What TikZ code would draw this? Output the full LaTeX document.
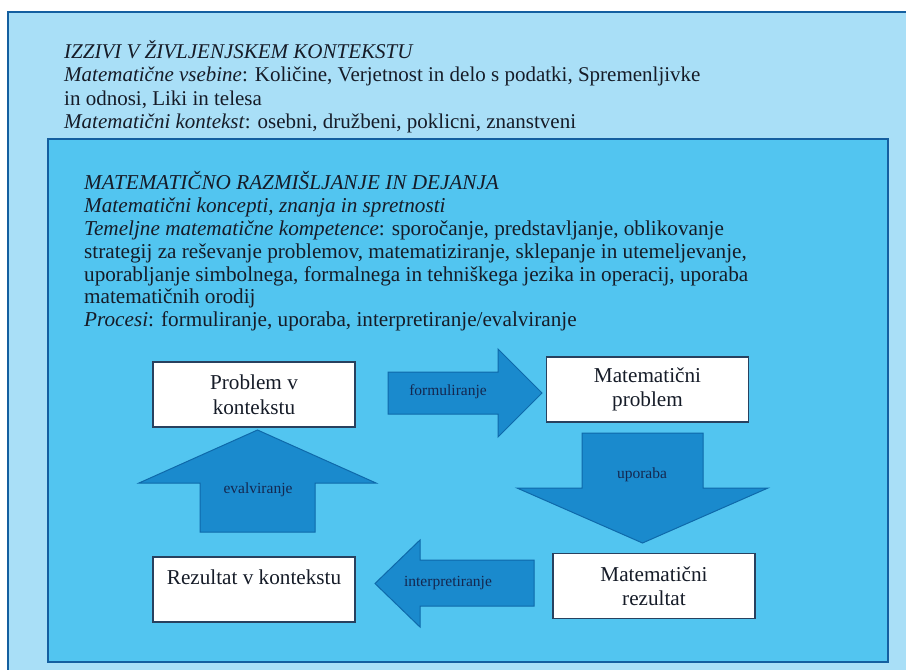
\documentclass[tikz,border=0pt]{standalone}
\usepackage{fontspec}
\setmainfont{Liberation Serif}

\definecolor{outerfill}{RGB}{169,223,247}
\definecolor{innerfill}{RGB}{82,197,240}
\definecolor{frameblue}{RGB}{20,95,160}
\definecolor{boxline}{RGB}{40,65,95}
\definecolor{arrowblue}{RGB}{26,138,205}
\definecolor{arrowline}{RGB}{14,105,170}
\definecolor{labelnavy}{RGB}{20,40,80}
\definecolor{inkdark}{RGB}{22,28,40}

\begin{document}
\begin{tikzpicture}[
    x=1pt, y=-1pt,
    frame/.style={draw=frameblue, line width=2.5pt},
    box/.style={draw=boxline, fill=white, line width=1.2pt, minimum height=65pt,
                minimum width=202pt, align=center, text=inkdark,
                font=\fontsize{21.2}{24.5}\selectfont},
    flow/.style={draw=arrowline, fill=arrowblue, line width=1pt, line join=miter},
    tag/.style={text=labelnavy, inner sep=0pt, font=\fontsize{15.5}{16}\selectfont},
    note/.style={anchor=north west, inner sep=0pt, align=left,
                 text=inkdark, font=\fontsize{21.2}{22.8}\selectfont},
]

    \path[use as bounding box, fill=white] (0,0) rectangle (906,670);
    \draw[frame, fill=outerfill] (8,12) rectangle (915,680);
    \draw[frame, fill=innerfill] (48,139) rectangle (888,662);

    \node[note, font=\fontsize{21}{23.2}\selectfont] (ctx) at (64,40.5)
        {\textit{IZZIVI V ŽIVLJENJSKEM KONTEKSTU}\\
        \textit{Matematične vsebine}: Količine, Verjetnost in delo s podatki, Spremenljivke\\
        in odnosi, Liki in telesa\\
        \textit{Matematični kontekst}: osebni, družbeni, poklicni, znanstveni};
    \node[note] (act) at (84,171.5) {\textit{MATEMATIČNO RAZMIŠLJANJE IN DEJANJA}\\
        \textit{Matematični koncepti, znanja in spretnosti}\\
        \textit{Temeljne matematične kompetence}: sporočanje, predstavljanje, oblikovanje\\
        strategij za reševanje problemov, matematiziranje, sklepanje in utemeljevanje,\\
        uporabljanje simbolnega, formalnega in tehniškega jezika in operacij, uporaba\\
        matematičnih orodij\\
        \textit{Procesi}: formuliranje, uporaba, interpretiranje/evalviranje};

    \node[box] (pk) at (254,394.5) {Problem v\\kontekstu};
    \node[box] (mp) at (647.5,389.5) {Matematični\\problem};
    \node[box] (mr) at (654,586) {Matematični\\rezultat};
    \node[box] (rk) at (254,589.5) {Rezultat v kontekstu\\~};

    \draw[flow] (388,372) -- (498,372) -- (498,349) -- (542,393)
        -- (498,437) -- (498,414) -- (388,414) -- cycle;
    \draw[flow] (582,433) -- (703,433) -- (703,488) -- (768,488)
        -- (642.5,543) -- (517,488) -- (582,488) -- cycle;
    \draw[flow] (534,560) -- (420,560) -- (420,540) -- (375,583.5)
        -- (420,627) -- (420,606) -- (534,606) -- cycle;
    \draw[flow] (200,532) -- (200,483) -- (139,483) -- (257.5,430)
        -- (376,483) -- (315,483) -- (315,532) -- cycle;

    \node[tag] (fo) at (448,392) {formuliranje};
    \node[tag] (up) at (642,475) {uporaba};
    \node[tag] (ip) at (448,583) {interpretiranje};
    \node[tag] (ev) at (258,490) {evalviranje};

\end{tikzpicture}
\end{document}
